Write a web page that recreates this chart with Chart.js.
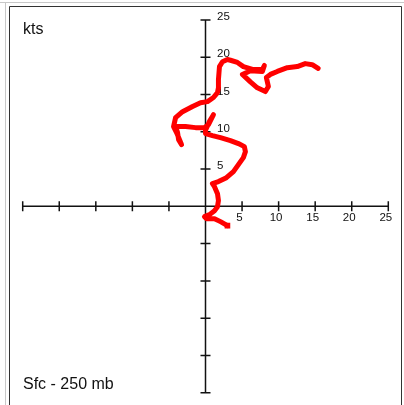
<!DOCTYPE html>
<html>
<head>
<meta charset="utf-8">
<script src="https://cdn.jsdelivr.net/npm/chart.js@4/dist/chart.umd.min.js"></script>
<style>
html,body{margin:0;padding:0;background:#fff;overflow:hidden;}
canvas{display:block;}
</style>
</head>
<body>
<canvas id="c" width="404" height="405"></canvas>
<script>
// Hodograph, Sfc - 250 mb (kts). u = east-west component, v = north-south component
const uKts = [3.0,2.05,1.23,0.14,-0.14,0.55,1.23,1.64,1.77,1.64,1.23,0.95,1.77,2.86,3.82,4.5,5.18,5.46,5.32,4.5,3.41,2.05,0.95,0.0,0.0,0.55,1.09,0.41,-0.14,-1.36,-2.73,-4.09,-3.82,-3.68,-3.27,-3.96,-4.37,-4.09,-3.14,-1.77,-0.68,0.27,1.09,1.64,1.77,1.77,1.91,2.32,3.0,3.41,4.37,5.18,6.55,7.78,8.05,7.78,6.14,5.05,6.14,7.09,8.19,8.6,8.32,8.87,9.82,11.19,12.55,13.64,14.6,15.4];
const vKts = [-2.59,-2.05,-1.65,-1.65,-1.38,-1.11,-0.58,-0.04,0.77,1.7,2.64,3.05,3.32,3.85,4.66,5.6,6.54,7.34,8.01,8.42,8.82,9.22,9.49,9.76,10.2,11.4,12.3,10.98,10.56,10.56,10.7,10.7,9.89,8.95,8.28,9.9,10.7,11.9,12.7,13.4,13.9,14.05,14.6,15.26,15.9,17.0,18.75,19.4,19.7,19.6,19.3,18.75,18.35,18.35,18.9,18.1,18.2,17.7,16.7,15.9,15.4,16.07,17.3,17.7,18.1,18.6,18.75,19.15,19.0,18.5];
const tickValues = [-25,-20,-15,-10,-5,0,5,10,15,20,25];
const tickLabels = ['','','','','','','5','10','15','20','25'];
const unitLabel = 'kts';
const layerLabel = 'Sfc - 250 mb';

const points = uKts.map((u,i)=>({x:u,y:vKts[i]}));

const hodoAxes = {
  id:'hodoAxes',
  beforeDraw(chart){
    const ctx = chart.ctx;
    ctx.save();
    ctx.fillStyle = '#fff';
    ctx.fillRect(0,0,chart.width,chart.height);
    ctx.strokeStyle = '#c8c8c8';
    ctx.lineWidth = 1;
    ctx.beginPath();
    ctx.moveTo(0,2.5); ctx.lineTo(404,2.5);
    ctx.moveTo(5.5,2); ctx.lineTo(5.5,405);
    ctx.stroke();
    ctx.strokeStyle = '#333';
    ctx.beginPath();
    ctx.moveTo(9.5,405); ctx.lineTo(9.5,6.5); ctx.lineTo(401.5,6.5); ctx.lineTo(401.5,405);
    ctx.stroke();
    ctx.restore();
  },
  beforeDatasetsDraw(chart){
    const ctx = chart.ctx;
    const xs = chart.scales.x, ys = chart.scales.y;
    const x0 = xs.getPixelForValue(0), y0 = ys.getPixelForValue(0);
    ctx.save();
    ctx.strokeStyle = '#111';
    ctx.lineWidth = 1.5;
    ctx.beginPath();
    ctx.moveTo(xs.getPixelForValue(-25), y0);
    ctx.lineTo(xs.getPixelForValue(25), y0);
    ctx.moveTo(x0, ys.getPixelForValue(25));
    ctx.lineTo(x0, ys.getPixelForValue(-25));
    tickValues.forEach(t=>{
      if (t===0) return;
      const px = xs.getPixelForValue(t);
      ctx.moveTo(px, y0-5); ctx.lineTo(px, y0+5);
      const py = ys.getPixelForValue(t);
      ctx.moveTo(x0-5, py); ctx.lineTo(x0+5, py);
    });
    ctx.stroke();
    ctx.fillStyle = '#111';
    ctx.font = '11.5px "Liberation Sans", Arial, sans-serif';
    tickValues.forEach((t,i)=>{
      const lab = tickLabels[i];
      if (!lab) return;
      ctx.textAlign = 'center';
      ctx.textBaseline = 'middle';
      ctx.fillText(lab, xs.getPixelForValue(t)-2.5, y0+11.5);
      ctx.textAlign = 'left';
      ctx.fillText(lab, x0+11.5, ys.getPixelForValue(t)-3);
    });
    ctx.font = '16px "Liberation Sans", Arial, sans-serif';
    ctx.fillStyle = '#111';
    ctx.textAlign = 'left';
    ctx.textBaseline = 'alphabetic';
    ctx.fillText(unitLabel, 23, 33.5);
    ctx.fillText(layerLabel, 23, 388.5);
    ctx.restore();
  }
};

new Chart(document.getElementById('c'), {
  type:'scatter',
  data:{datasets:[{
    data: points,
    showLine:true,
    borderColor:'#ff0000',
    backgroundColor:'#ff0000',
    borderWidth:5,
    borderJoinStyle:'round',
    borderCapStyle:'round',
    tension:0,
    pointRadius: points.map((p,i)=> i===0 ? 4 : 0),
    pointStyle:'rect',
    pointBorderWidth:0
  }]},
  options:{
    responsive:false,
    animation:false,
    devicePixelRatio:1,
    layout:{padding:{left:22.7,right:15.7,top:20,bottom:12.3}},
    plugins:{legend:{display:false},tooltip:{enabled:false}},
    scales:{
      x:{type:'linear',min:-25,max:25,display:false},
      y:{type:'linear',min:-25,max:25,display:false}
    }
  },
  plugins:[hodoAxes]
});
</script>
</body>
</html>
